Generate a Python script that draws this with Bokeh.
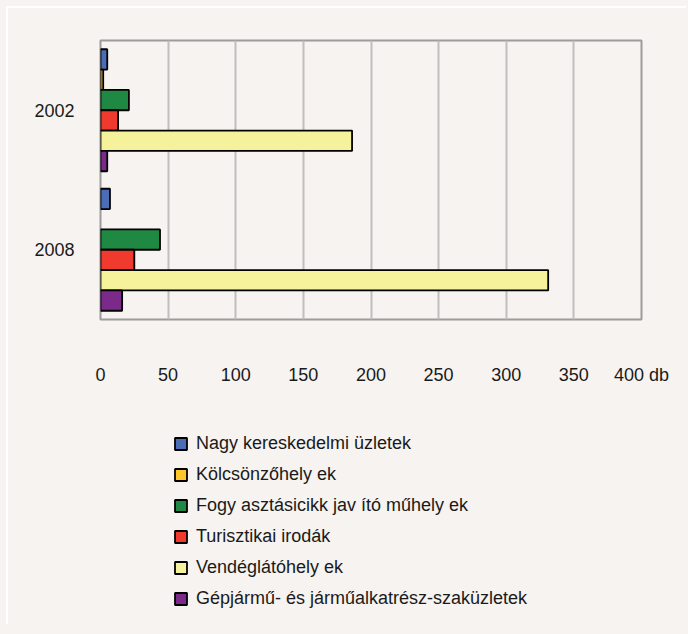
from bokeh.plotting import figure
from bokeh.layouts import column
from bokeh.models import (FactorRange, Range1d, Legend, LegendItem, FixedTicker,
                          ColumnDataSource, GlobalInlineStyleSheet)
from bokeh.transform import dodge
from bokeh.embed import file_html
from bokeh.resources import INLINE

# ---- data ----
years = ["2002", "2008"]
series_names = [
    "Nagy kereskedelmi üzletek",
    "Kölcsönzőhely ek",
    "Fogy asztásicikk jav ító műhely ek",
    "Turisztikai irodák",
    "Vendéglátóhely ek",
    "Gépjármű- és járműalkatrész-szaküzletek",
]
nagy_kereskedelmi = [5, 7]
kolcsonzohelyek = [2, float("nan")]
fogyasztasicikk = [21, 44]
turisztikai = [13, 25]
vendeglatohelyek = [186, 331]
gepjarmu = [5, 16]
x_ticks = [0, 50, 100, 150, 200, 250, 300, 350, 400]
x_tick_labels = ["0", "50", "100", "150", "200", "250", "300", "350", "400 db"]

series_values = [nagy_kereskedelmi, kolcsonzohelyek, fogyasztasicikk,
                 turisztikai, vendeglatohelyek, gepjarmu]
colors = ["#4a6db5", "#fec52c", "#1f8944", "#ef3a2d", "#f5f29b", "#7c2a8a"]

BG = "#f6f3f0"
FONT = "Liberation Sans"
TXT = "#1a1a1a"

# ---- main chart ----
p = figure(
    y_range=FactorRange(factors=years[::-1], range_padding=0),
    x_range=Range1d(0, 400),
    frame_width=541, frame_height=279,
    min_border_left=92, min_border_right=47,
    min_border_top=32, min_border_bottom=76,
    output_backend="svg", toolbar_location=None,
    background_fill_color=BG, border_fill_color=BG,
    outline_line_color="#9c9c9c", outline_line_width=2,
)

# ---- legend panel (hidden copies of the bars feed the legend swatches) ----
pl = figure(
    width=680, height=231, x_range=Range1d(0, 1), y_range=Range1d(0, 1),
    x_axis_type=None, y_axis_type=None,
    min_border_left=0, min_border_right=0, min_border_top=0, min_border_bottom=0,
    output_backend="svg", toolbar_location=None,
    background_fill_color=BG, border_fill_color=BG, outline_line_color=None,
)

h = 0.1457
items = []
for i, (name, vals, col) in enumerate(zip(series_names, series_values, colors)):
    src = ColumnDataSource(dict(year=years, v=vals))
    p.hbar(y=dodge("year", (2.5 - i) * h, range=p.y_range), left=0, right="v",
           height=h, fill_color=col, line_color="black", line_width=1.8, source=src)
    r = pl.hbar(y="v", left=0, right="v", height=h, fill_color=col,
                line_color="black", line_width=1.8, source=src, visible=False)
    items.append(LegendItem(label=name, renderers=[r]))

p.xaxis.ticker = FixedTicker(ticks=x_ticks)
p.xaxis.major_label_overrides = {t: l for t, l in zip(x_ticks, x_tick_labels)}
for ax in (p.xaxis, p.yaxis):
    ax.axis_line_color = None
    ax.major_tick_line_color = None
    ax.minor_tick_line_color = None
    ax.major_label_text_font = FONT
    ax.major_label_text_font_size = "18px"
    ax.major_label_text_color = TXT
p.xaxis.major_label_standoff = 39
p.yaxis.major_label_standoff = 20

p.ygrid.grid_line_color = None
p.xgrid.grid_line_color = "#bfbfbf"
p.xgrid.grid_line_width = 2

legend = Legend(
    items=items, location=(73, 17), padding=0, margin=0,
    border_line_alpha=0, background_fill_alpha=0,
    glyph_width=15, glyph_height=15, label_standoff=8, spacing=10,
    label_height=20, label_text_font=FONT, label_text_font_size="18px",
    label_text_color=TXT,
)
pl.add_layout(legend)

layout = column(p, pl, spacing=0,
                styles={"margin": "8px 0 0 8px",
                        "box-shadow": "-2px -2px 0 0 #ffffff"})
layout.stylesheets = [GlobalInlineStyleSheet(css="html, body { background-color: #f6f3f0; }")]

open("out.html", "w").write(file_html(layout, INLINE))
